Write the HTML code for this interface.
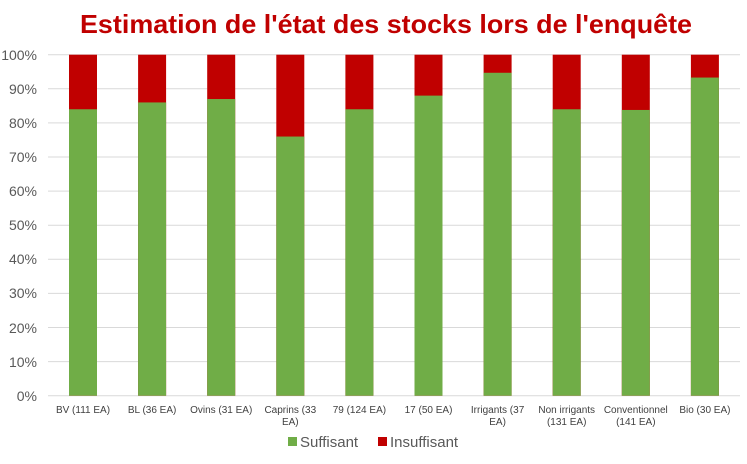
<!DOCTYPE html>
<html><head><meta charset="utf-8"><style>
html,body{margin:0;padding:0;background:#fff;}
svg{display:block;font-family:"Liberation Sans",sans-serif;}
</style></head><body>
<svg width="747" height="464" viewBox="0 0 747 464" xmlns="http://www.w3.org/2000/svg">
<rect width="747" height="464" fill="#fff"/>
<text x="386" y="33" text-anchor="middle" font-size="26" font-weight="bold" fill="#c00000" textLength="612" lengthAdjust="spacingAndGlyphs">Estimation de l'état des stocks lors de l'enquête</text>
<g stroke="#d9d9d9" stroke-width="1">
<line x1="48" x2="740" y1="54.7" y2="54.7"/>
<line x1="48" x2="740" y1="88.8" y2="88.8"/>
<line x1="48" x2="740" y1="122.9" y2="122.9"/>
<line x1="48" x2="740" y1="157" y2="157"/>
<line x1="48" x2="740" y1="191.1" y2="191.1"/>
<line x1="48" x2="740" y1="225.2" y2="225.2"/>
<line x1="48" x2="740" y1="259.3" y2="259.3"/>
<line x1="48" x2="740" y1="293.4" y2="293.4"/>
<line x1="48" x2="740" y1="327.5" y2="327.5"/>
<line x1="48" x2="740" y1="361.6" y2="361.6"/>
<line x1="48" x2="740" y1="395.7" y2="395.7"/>
</g>
<g font-size="14" fill="#595959" text-anchor="end">
<text x="37" y="60">100%</text>
<text x="37" y="94">90%</text>
<text x="37" y="128">80%</text>
<text x="37" y="162">70%</text>
<text x="37" y="196">60%</text>
<text x="37" y="230">50%</text>
<text x="37" y="264">40%</text>
<text x="37" y="298">30%</text>
<text x="37" y="333">20%</text>
<text x="37" y="367">10%</text>
<text x="37" y="401">0%</text>
</g>
<g fill="#c00000">
<rect x="69" y="54.7" width="28" height="341"/>
<rect x="138.1" y="54.7" width="28" height="341"/>
<rect x="207.2" y="54.7" width="28" height="341"/>
<rect x="276.3" y="54.7" width="28" height="341"/>
<rect x="345.4" y="54.7" width="28" height="341"/>
<rect x="414.5" y="54.7" width="28" height="341"/>
<rect x="483.6" y="54.7" width="28" height="341"/>
<rect x="552.7" y="54.7" width="28" height="341"/>
<rect x="621.8" y="54.7" width="28" height="341"/>
<rect x="690.9" y="54.7" width="28" height="341"/>
</g>
<g fill="#70ad47">
<rect x="69" y="109.26" width="28" height="286.44"/>
<rect x="138.1" y="102.44" width="28" height="293.26"/>
<rect x="207.2" y="99.03" width="28" height="296.67"/>
<rect x="276.3" y="136.54" width="28" height="259.16"/>
<rect x="345.4" y="109.26" width="28" height="286.44"/>
<rect x="414.5" y="95.62" width="28" height="300.08"/>
<rect x="483.6" y="72.77" width="28" height="322.93"/>
<rect x="552.7" y="109.26" width="28" height="286.44"/>
<rect x="621.8" y="109.94" width="28" height="285.76"/>
<rect x="690.9" y="77.55" width="28" height="318.15"/>
</g>
<g font-size="10" fill="#404040" text-anchor="middle">
<text x="83" y="413">BV (111 EA)</text>
<text x="152.1" y="413">BL (36 EA)</text>
<text x="221.2" y="413">Ovins (31 EA)</text>
<text x="290.3" y="413">Caprins (33</text>
<text x="290.3" y="425">EA)</text>
<text x="359.4" y="413">79 (124 EA)</text>
<text x="428.5" y="413">17 (50 EA)</text>
<text x="497.6" y="413">Irrigants (37</text>
<text x="497.6" y="425">EA)</text>
<text x="566.7" y="413">Non irrigants</text>
<text x="566.7" y="425">(131 EA)</text>
<text x="635.8" y="413">Conventionnel</text>
<text x="635.8" y="425">(141 EA)</text>
<text x="704.9" y="413">Bio (30 EA)</text>
</g>
<rect x="288" y="437" width="9" height="9" fill="#70ad47"/>
<text x="300" y="447" font-size="15" fill="#595959">Suffisant</text>
<rect x="378" y="437" width="9" height="9" fill="#c00000"/>
<text x="390" y="447" font-size="15" fill="#595959">Insuffisant</text>
</svg>
</body></html>
